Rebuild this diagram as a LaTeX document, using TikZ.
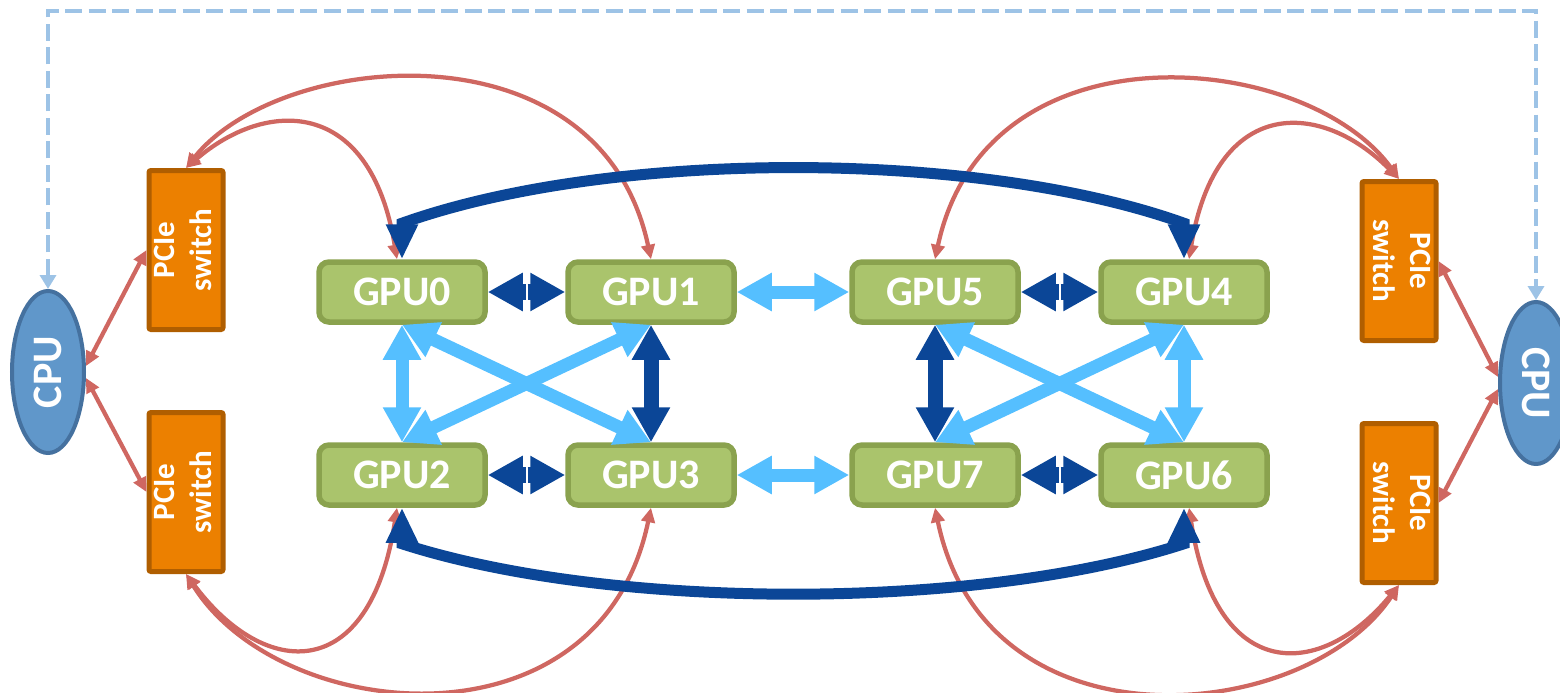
\documentclass[tikz,border=0pt]{standalone}
\usepackage{fontspec}
\usepackage{graphicx}
\usepackage{tikz}
\usetikzlibrary{arrows.meta,calc,shapes.geometric}
\newfontfamily\diagfont{Carlito}
\definecolor{gpufill}{HTML}{AAC46C}
\definecolor{gpuline}{HTML}{8AA24E}
\definecolor{swfill}{HTML}{EC8000}
\definecolor{swline}{HTML}{B05E00}
\definecolor{cpufill}{HTML}{6097CA}
\definecolor{cpuline}{HTML}{45719F}
\definecolor{linkred}{HTML}{CF6761}
\definecolor{lightlink}{HTML}{55BFFF}
\definecolor{darklink}{HTML}{0B4697}
\definecolor{busblue}{HTML}{9DC3E6}
\tikzset{
  gpu/.style={draw=gpuline, fill=gpufill, line width=2.2pt, rounded corners=4pt,
    minimum width=66.4pt, minimum height=24pt, inner sep=0pt, text=white,
    font=\diagfont\bfseries\fontsize{16.8}{20}\selectfont},
  switchbox/.style={draw=swline, fill=swfill, line width=2pt, rounded corners=0.8pt,
    minimum width=27.2pt, minimum height=63.6pt, inner sep=0pt, text=white,
    font=\diagfont\bfseries\fontsize{12.4}{14.8}\selectfont},
  cpu/.style={ellipse, draw=cpuline, fill=cpufill, line width=1.6pt,
    minimum width=28.8pt, minimum height=64.8pt, inner sep=0pt, text=white,
    font=\diagfont\bfseries\fontsize{16.8}{20}\selectfont},
  pcie/.style={draw=linkred, line width=1.7pt,
    {Triangle[length=5.8pt,width=5.4pt]}-{Triangle[length=5.8pt,width=5.4pt]}},
  nvlight/.style={draw=lightlink, line width=5.2pt,
    {Triangle[length=14pt,width=14.4pt]}-{Triangle[length=14pt,width=14.4pt]}},
  nvdark/.style={draw=darklink, line width=6pt,
    {Triangle[length=14pt,width=14.4pt]}-{Triangle[length=14pt,width=14.4pt]}},
  nvhalf/.style={draw=darklink, line width=6.4pt, -{Triangle[length=14pt,width=14.4pt]}},
  nvlong/.style={draw=darklink, line width=4.4pt,
    {Triangle[length=14pt,width=12pt]}-{Triangle[length=14pt,width=12pt]}},
  bus/.style={draw=busblue, line width=1.6pt, dash pattern=on 6.8pt off 2.6pt,
    {Triangle[length=5.6pt,width=6.4pt]}-{Triangle[length=5.6pt,width=6.4pt]}},
}
\newcommand{\swlabel}[1]{\rotatebox{#1}{\begin{tabular}{@{}c@{}}PCIe\\switch\end{tabular}}}

\begin{document}
\begin{tikzpicture}[x=0.4pt,y=-0.4pt]
\useasboundingbox (0,0) rectangle (1560,693);

% CPUs and PCIe switches
\node[cpu] (cpuL) at (48,372) {\rotatebox{90}{CPU}};
\node[cpu] (cpuR) at (1536,383) {\rotatebox{-90}{CPU}};
\node[switchbox] (sw1) at (186,250) {\swlabel{90}};
\node[switchbox] (sw2) at (186,492) {\swlabel{90}};
\node[switchbox] (sw3) at (1399,261) {\swlabel{-90}};
\node[switchbox] (sw4) at (1399,503) {\swlabel{-90}};

% GPUs
\node[gpu] (g0) at (402,292) {GPU0};
\node[gpu] (g1) at (651,292) {GPU1};
\node[gpu] (g5) at (935,292) {GPU5};
\node[gpu] (g4) at (1184,292) {GPU4};
\node[gpu] (g2) at (402,475) {GPU2};
\node[gpu] (g3) at (651,475) {GPU3};
\node[gpu] (g7) at (935,475) {GPU7};
\node[gpu] (g6) at (1184,475) {GPU6};

% CPU to CPU
\coordinate (bustop) at (0,11);
\draw[bus] (cpuL.north) |- (bustop -| cpuR.north) -- (cpuR.north);

% CPU to switches
\draw[pcie] ([yshift=2.4pt]cpuL.east) -- (sw1.west);
\draw[pcie] ([yshift=-2.4pt]cpuL.east) -- (sw2.west);
\draw[pcie] ([yshift=2.4pt]cpuR.west) -- (sw3.east);
\draw[pcie] ([yshift=-2.4pt]cpuR.west) -- (sw4.east);

% switches to GPUs
\draw[pcie] (sw1.north) .. controls (265,100) and (370,95) .. ([xshift=-2pt]g0.north);
\draw[pcie] (sw1.north) .. controls (280,50) and (600,20) .. (g1.north);
\draw[pcie] (sw3.north) .. controls (1321,100) and (1216,95) .. ([xshift=2pt]g4.north);
\draw[pcie] (sw3.north) .. controls (1306,50) and (986,20) .. (g5.north);
\draw[pcie] (sw2.south) .. controls (265,680) and (370,685) .. ([xshift=-2pt]g2.south);
\draw[pcie] (sw2.south) .. controls (280,725) and (600,755) .. (g3.south);
\draw[pcie] (sw4.south) .. controls (1321,680) and (1216,685) .. ([xshift=2pt]g6.south);
\draw[pcie] (sw4.south) .. controls (1306,725) and (986,755) .. (g7.south);

% long NVLinks
\coordinate (t0) at ([yshift=14.4pt]g0.north);
\coordinate (t4) at ([yshift=14.4pt]g4.north);
\coordinate (b2) at ([yshift=-14.4pt]g2.south);
\coordinate (b6) at ([yshift=-14.4pt]g6.south);
\draw[nvlong] (g0.north) -- (t0) .. controls (610,149) and (977,149) .. (t4) -- (g4.north);
\draw[nvlong] (g2.south) -- (b2) .. controls (610,611) and (977,611) .. (b6) -- (g6.south);

% NVLinks inside each quad
\draw[nvlight] (g0.south) -- (g3.north);
\draw[nvlight] (g1.south) -- (g2.north);
\draw[nvlight] (g5.south) -- (g6.north);
\draw[nvlight] (g4.south) -- (g7.north);
\draw[nvlight] (g0.south) -- (g2.north);
\draw[nvlight] (g4.south) -- (g6.north);
\draw[nvdark] (g1.south) -- (g3.north);
\draw[nvdark] (g5.south) -- (g7.north);
\draw[nvlight] (g1.east) -- (g5.west);
\draw[nvlight] (g3.east) -- (g7.west);

% split links
\foreach \a/\b in {g0/g1, g2/g3, g5/g4, g7/g6} {
  \coordinate (mid) at ($(\a.east)!0.5!(\b.west)$);
  \draw[nvhalf] ([xshift=0.4pt]mid) -- (\b.west);
  \draw[nvhalf] ([xshift=-0.4pt]mid) -- (\a.east);
}
\end{tikzpicture}
\end{document}
